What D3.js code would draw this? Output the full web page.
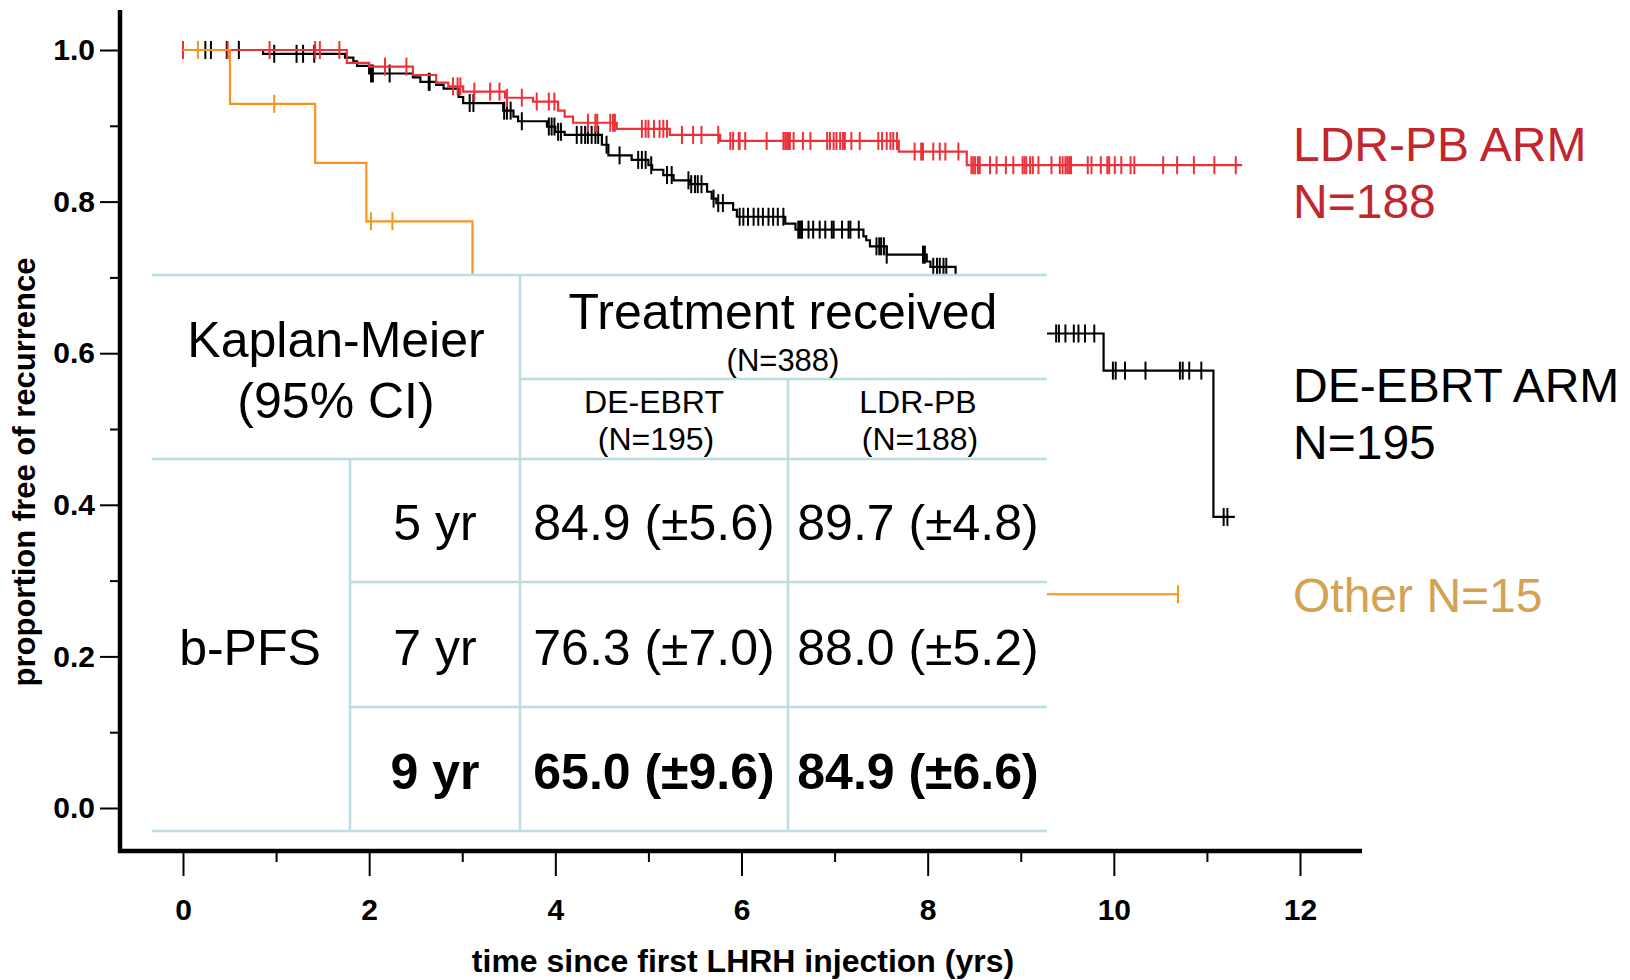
<html>
<head>
<style>
body { margin: 0; background: #fff; }
svg text { font-family: "Liberation Sans", Arial, Helvetica, sans-serif; }
.tbl-line { stroke: #b9dfe3; stroke-width: 2.5px; }
.axis-line { stroke: #000; stroke-width: 4.5px; }
.tick line { stroke: #000; stroke-width: 2px; }
.tick text { font-weight: bold; font-size: 30px; fill: #000; }
</style>
</head>
<body>
<svg width="1630" height="980"></svg>
<script src="https://d3js.org/d3.v7.min.js"></script>
<script>
// KM step data: [time (yrs), proportion after the drop]
var ldrSteps = [[1.76,0.983],[2.00,0.978],[2.47,0.967],[2.72,0.957],[2.85,0.952],[3.01,0.945],
  [3.46,0.937],[3.76,0.932],[4.03,0.920],[4.10,0.912],[4.19,0.904],[4.66,0.896],[5.23,0.888],
  [5.77,0.880],[7.69,0.866],[8.42,0.848]]
var ldrCensor = [0.0,0.48,0.93,1.42,1.47,1.68,2.17,2.40,2.90,2.95,2.98,3.13,3.30,3.40,3.48,3.64,3.80,
  3.93,3.99,4.35,4.43,4.45,4.59,4.62,4.64,4.93,4.97,5.00,5.06,5.12,5.16,5.20,5.36,5.48,5.57,5.75,
  5.88,5.91,5.97,5.98,6.04,6.27,6.45,6.47,6.49,6.50,6.52,6.56,6.66,6.74,6.92,6.95,6.99,7.02,7.06,
  7.09,7.11,7.18,7.27,7.47,7.51,7.56,7.60,7.63,7.67,7.86,7.93,7.95,8.06,8.13,8.19,8.33,
  8.47,8.49,8.51,8.54,8.56,8.67,8.74,8.84,8.92,9.02,9.04,9.06,9.10,9.13,9.19,9.33,9.42,9.45,9.48,
  9.50,9.52,9.54,9.72,9.76,9.86,9.93,9.95,10.01,10.08,10.18,10.22,10.53,10.68,10.86,11.08,11.31]
var ldrEnd = 11.38

var ebrtSteps = [[0.86,0.995],[1.74,0.990],[1.83,0.985],[1.87,0.979],[2.00,0.969],[2.47,0.964],
  [2.55,0.958],[2.72,0.954],[2.80,0.949],[2.96,0.938],[3.01,0.930],[3.44,0.920],[3.55,0.912],
  [3.60,0.906],[3.91,0.899],[4.00,0.892],[4.10,0.888],[4.50,0.875],[4.57,0.861],[4.82,0.855],
  [5.00,0.848],[5.04,0.842],[5.16,0.835],[5.27,0.828],[5.45,0.823],[5.63,0.813],[5.68,0.804],
  [5.73,0.798],[5.91,0.789],[5.95,0.780],[6.47,0.771],[6.58,0.763],[7.31,0.754],[7.34,0.749],
  [7.38,0.741],[7.56,0.730],[7.99,0.721],[8.03,0.714],[8.30,0.700],[8.60,0.680],[8.90,0.655],
  [9.20,0.626],[9.89,0.577],[11.07,0.384]]
var ebrtCensor = [0.24,0.30,0.47,0.60,0.98,1.22,1.29,1.41,2.02,2.04,2.22,2.64,2.65,3.08,3.12,3.45,
  3.48,3.52,3.64,3.93,3.96,3.99,4.03,4.06,4.23,4.28,4.32,4.35,4.39,4.43,4.46,4.55,4.69,4.89,4.93,
  4.97,5.03,5.20,5.25,5.43,5.46,5.50,5.53,5.57,5.70,5.75,5.80,5.98,6.02,6.07,6.13,6.18,6.23,6.29,
  6.34,6.39,6.45,6.61,6.62,6.64,6.65,6.72,6.77,6.84,6.90,6.97,6.99,7.08,7.15,7.17,7.26,7.45,7.48,
  7.50,7.53,7.56,7.95,7.97,8.06,8.10,8.13,8.17,8.20,9.38,9.41,9.48,9.57,9.62,9.69,9.79,9.99,10.02,
  10.12,10.34,10.71,10.74,10.81,10.94,11.18,11.22]
var ebrtEnd = 11.30

var otherSteps = [[0.505,0.929],[1.42,0.851],[1.97,0.774],[3.11,0.677],[4.20,0.580],[5.60,0.483],
  [7.00,0.387],[8.30,0.282]]
var otherCensor = [0.16,0.98,2.02,2.25,10.69]
var otherEnd = 10.69

var legendLines = [["LDR-PB ARM", "N=188"], ["DE-EBRT ARM", "N=195"], ["Other N=15"]]

// table contents
var tableTitle = ["Kaplan-Meier", "(95% CI)"]
var groupHead = ["Treatment received", "(N=388)"]
var armHeads = [["DE-EBRT", "(N=195)"], ["LDR-PB", "(N=188)"]]
var rowGroup = "b-PFS"
var rowLabels = ["5 yr", "7 yr", "9 yr"]
var ebrtPfs = ["84.9 (\u00b15.6)", "76.3 (\u00b17.0)", "65.0 (\u00b19.6)"]
var ldrPfs = ["89.7 (\u00b14.8)", "88.0 (\u00b15.2)", "84.9 (\u00b16.6)"]

const svg = d3.select('svg')
const x = d3.scaleLinear().domain([0, 12]).range([183, 1300])
const y = d3.scaleLinear().domain([0, 1]).range([808, 50])

const series = [
  {steps: ebrtSteps, censor: ebrtCensor, end: ebrtEnd, color: '#000'},
  {steps: ldrSteps, censor: ldrCensor, end: ldrEnd, color: '#ee3139'},
  {steps: otherSteps, censor: otherCensor, end: otherEnd, color: '#f7941d'}
]

function survAt(steps, t) {
  let s = 1
  steps.forEach(function (d) { if (d[0] <= t) s = d[1] })
  return s
}

const line = d3.line()
  .x(function (d) { return x(d[0]) })
  .y(function (d) { return y(d[1]) })
  .curve(d3.curveStepAfter)

series.forEach(function (sr) {
  const pts = [[0, 1]].concat(sr.steps)
  pts.push([sr.end, sr.steps[sr.steps.length - 1][1]])
  const g = svg.append('g')
  g.append('path')
    .attr('d', line(pts))
    .attr('fill', 'none')
    .attr('stroke', sr.color)
    .attr('stroke-width', 2.2)
  g.selectAll('line')
    .data(sr.censor)
    .enter().append('line')
    .attr('x1', function (t) { return x(t) })
    .attr('x2', function (t) { return x(t) })
    .attr('y1', function (t) { return y(survAt(sr.steps, t)) - 9 })
    .attr('y2', function (t) { return y(survAt(sr.steps, t)) + 9 })
    .attr('stroke', sr.color)
    .attr('stroke-width', 2)
})

// axes
svg.append('g').attr('transform', 'translate(0,851)')
  .call(d3.axisBottom(x).tickValues(d3.range(0, 13, 2)).tickSize(25).tickPadding(23).tickFormat(d3.format('d')))
svg.append('g').attr('transform', 'translate(0,851)')
  .call(d3.axisBottom(x).tickValues(d3.range(1, 13, 2)).tickSize(11).tickFormat(''))
svg.append('g').attr('transform', 'translate(120,0)')
  .call(d3.axisLeft(y).tickValues(d3.range(0, 1.01, 0.2)).tickSize(20).tickPadding(5).tickFormat(d3.format('.1f')))
svg.append('g').attr('transform', 'translate(120,0)')
  .call(d3.axisLeft(y).tickValues([0.1, 0.3, 0.5, 0.7, 0.9]).tickSize(10).tickFormat(''))
svg.selectAll('.domain').remove()
svg.selectAll('g').attr('font-family', null)

svg.append('line').attr('class', 'axis-line').attr('x1', 120).attr('x2', 120).attr('y1', 10).attr('y2', 853)
svg.append('line').attr('class', 'axis-line').attr('x1', 118).attr('x2', 1362).attr('y1', 851).attr('y2', 851)

svg.append('text')
  .attr('x', 743).attr('y', 972)
  .attr('text-anchor', 'middle')
  .style('font-weight', 'bold').style('font-size', '32px')
  .text('time since first LHRH injection (yrs)')
svg.append('text')
  .attr('transform', 'translate(35,472) rotate(-90)')
  .attr('text-anchor', 'middle')
  .style('font-weight', 'bold').style('font-size', '31px')
  .text('proportion free of recurrence')

// legend
const legColors = ['#c1272d', '#000', '#d4a253']
const legBase = [161, 402, 612]
legendLines.forEach(function (lines, i) {
  lines.forEach(function (txt, j) {
    svg.append('text')
      .attr('x', 1293).attr('y', legBase[i] + j * 57)
      .attr('fill', legColors[i])
      .style('font-size', '48px')
      .text(txt)
  })
})

// table overlay
const tbl = svg.append('g')
tbl.append('rect').attr('x', 152).attr('y', 275).attr('width', 895).attr('height', 556).attr('fill', '#fff')
const hLines = [[275, 152], [379, 520], [459, 152], [582, 350], [707, 350], [831, 152]]
hLines.forEach(function (h) {
  tbl.append('line').attr('class', 'tbl-line').attr('x1', h[1]).attr('x2', 1047).attr('y1', h[0]).attr('y2', h[0])
})
const vLines = [[520, 275], [788, 379], [350, 459]]
vLines.forEach(function (v) {
  tbl.append('line').attr('class', 'tbl-line').attr('x1', v[0]).attr('x2', v[0]).attr('y1', v[1]).attr('y2', 831)
})

function cell(txt, cx, base, size, bold) {
  tbl.append('text')
    .attr('x', cx).attr('y', base)
    .attr('text-anchor', 'middle')
    .style('font-size', size + 'px')
    .style('font-weight', bold ? 'bold' : 'normal')
    .text(txt)
}
cell(tableTitle[0], 336, 357, 50)
cell(tableTitle[1], 336, 418, 50)
cell(groupHead[0], 783, 329, 50)
cell(groupHead[1], 783, 371, 31)
cell(armHeads[0][0], 654, 413, 32)
cell(armHeads[0][1], 656, 450, 32)
cell(armHeads[1][0], 918, 413, 32)
cell(armHeads[1][1], 920, 450, 32)
cell(rowGroup, 250, 665, 50)
const rowBase = [540, 665, 789]
rowLabels.forEach(function (r, i) {
  const bold = i === rowLabels.length - 1
  cell(r, 435, rowBase[i], 50, bold)
  cell(ebrtPfs[i], 654, rowBase[i], 50, bold)
  cell(ldrPfs[i], 918, rowBase[i], 50, bold)
})
</script>
</body>
</html>
